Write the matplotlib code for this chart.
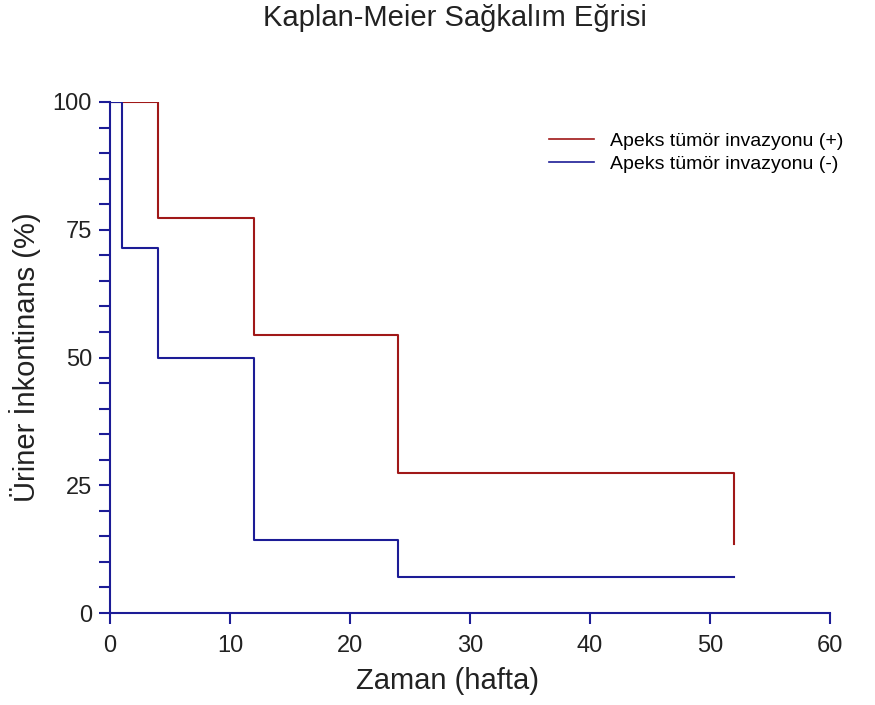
import matplotlib
matplotlib.use("Agg")
import matplotlib.pyplot as plt
from matplotlib.ticker import MultipleLocator

plt.rcParams['font.family'] = ['Liberation Sans', 'DejaVu Sans']

# Basamak noktaları (hafta, %)
zaman_pos = [0, 4, 12, 24, 52]
sag_pos = [100, 77.3, 54.5, 27.3, 13.6]
zaman_neg = [0, 1, 4, 12, 24, 52]
sag_neg = [100, 71.4, 50.0, 14.3, 7.1, 7.1]

etiketler = ["Apeks tümör invazyonu (+)", "Apeks tümör invazyonu (-)"]
kirmizi = "#a01818"
mavi = "#1c1c96"
eksen_renk = "#1c1c96"

fig = plt.figure(figsize=(8.75, 7.05), dpi=100)
ax = fig.add_axes([110 / 875, 1 - 613 / 705, 720 / 875, 511 / 705])

ax.step(zaman_pos, sag_pos, where="post", color=kirmizi, lw=1.5, label=etiketler[0])
ax.step(zaman_neg, sag_neg, where="post", color=mavi, lw=1.5, label=etiketler[1])

ax.set_xlim(0, 60)
ax.set_ylim(0, 100)
ax.set_xticks([0, 10, 20, 30, 40, 50, 60])
ax.set_yticks([0, 25, 50, 75, 100])
ax.yaxis.set_minor_locator(MultipleLocator(5))

for s in ["top", "right"]:
    ax.spines[s].set_visible(False)
for s in ["left", "bottom"]:
    ax.spines[s].set_color(eksen_renk)
    ax.spines[s].set_linewidth(1.5)

ax.tick_params(axis="both", which="major", direction="out", length=8, width=1.5,
               color=eksen_renk, labelsize=17, labelcolor="#222222")
ax.tick_params(axis="y", which="minor", direction="out", length=8, width=1.5, color=eksen_renk)
ax.tick_params(axis="y", pad=5)
ax.tick_params(axis="x", pad=8)

ax.set_xlabel("Zaman (hafta)", fontsize=21, color="#222222", labelpad=8)
ax.xaxis.set_label_coords((448 - 110) / 720, -0.105)
ax.set_ylabel("Üriner İnkontinans (%)", fontsize=21, color="#222222", labelpad=8)
fig.text(455 / 875, 1 - 4 / 705, "Kaplan-Meier Sağkalım Eğrisi", ha="center", va="top",
         fontsize=21, color="#222222")

fig.legend(handles=ax.get_lines(), labels=etiketler, loc="upper left",
           bbox_to_anchor=(549 / 875, 1 - 132 / 705), frameon=False,
           borderpad=0, borderaxespad=0, fontsize=14, handlelength=2.3,
           handletextpad=0.85, labelspacing=0.3)
for h in fig.legends[0].get_lines():
    h.set_linewidth(1.2)

fig.savefig("out.png", dpi=100)
